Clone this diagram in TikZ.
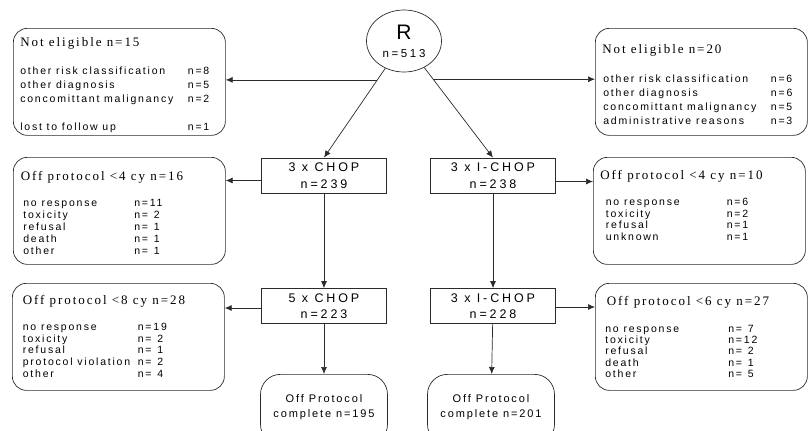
\documentclass[tikz,border=0pt]{standalone}
\usepackage{fontspec}
\setmainfont{Liberation Serif}
\setsansfont{Liberation Sans}
\newfontfamily\titlefont[LetterSpace=15]{Liberation Serif}
\newfontfamily\rowfont[LetterSpace=17]{Liberation Sans}
\newfontfamily\armfont[LetterSpace=23]{Liberation Sans}
\usetikzlibrary{arrows.meta,positioning,shapes.geometric,calc}
\definecolor{ln}{HTML}{2B2B2B}

% rows of the side boxes
\newcommand{\rrow}[2]{\makebox[189pt][l]{#1\hfill#2}}
\newcommand{\lrow}[3]{\makebox[#1][l]{#2}#3}
% title baseline, title-to-row gap, row skip, title indent, row indent, title, rows
\newcommand{\sidetext}[7]{%
  \begin{minipage}[t][107pt][t]{198pt}
    {\titlefont\fontsize{13}{15}\selectfont\leftskip=#4\rule{0pt}{#1}#6\par}
    \vspace{\dimexpr#2-#3\relax}
    {\rowfont\fontsize{10.5}{#3}\selectfont\leftskip=#5 #7\par}
  \end{minipage}}

\tikzset{
  sidebox/.style={
    rectangle, rounded corners=14pt, draw=ln, line width=0.7pt,
    inner sep=0pt, minimum width=212pt, minimum height=107pt,
    anchor=north west
  },
  armbox/.style={
    rectangle, draw=ln, line width=0.7pt,
    minimum width=125pt, minimum height=35pt, inner sep=0pt,
    align=center, font=\armfont\fontsize{12.5}{16.5}\selectfont
  },
  endbox/.style={
    rectangle, rounded corners=20pt, draw=ln, line width=0.7pt,
    minimum width=127pt, inner sep=0pt, anchor=north,
    font=\rowfont\fontsize{11}{15}\selectfont
  },
  flow/.style={
    -{Latex[length=7pt,width=6pt]}, line width=0.7pt, draw=ln
  },
}

\begin{document}
\begin{tikzpicture}[x=1pt, y=-1pt]
  \clip (0,0) rectangle (809,431);

  % Randomisation
  \node[ellipse, draw=ln, line width=0.7pt, minimum width=75pt,
    minimum height=62pt, inner sep=0pt, align=center,
    font=\armfont\fontsize{11.5}{18}\selectfont] (rand) at (404,41)
    {{\fontsize{21}{18}\selectfont R}\\n=513};

  % Not eligible
  \node[sidebox] (exL) at (13,28) {\sidetext{18pt}{28pt}{14pt}{0pt}{0pt}{Not eligible n=15}{%
    \rrow{other risk classification}{n=8}\\
    \rrow{other diagnosis}{n=5}\\
    \rrow{concomittant malignancy}{n=2}\\[14pt]
    \rrow{lost to follow up}{n=1}}};
  \node[sidebox] (exR) at (595,28) {\sidetext{25pt}{29pt}{14pt}{0pt}{1pt}{Not eligible n=20}{%
    \rrow{other risk classification}{n=6}\\
    \rrow{other diagnosis}{n=6}\\
    \rrow{concomittant malignancy}{n=5}\\
    \rrow{administrative reasons}{n=3}}};

  % First cycles
  \node[armbox] (a1) at (324,175.5) {3 x CHOP\\n=239};
  \node[armbox] (b1) at (493,175.5) {3 x I-CHOP\\n=238};
  \node[sidebox] (offA1) at (13,157) {\sidetext{23pt}{26pt}{12pt}{0.5pt}{3pt}{Off protocol <4 cy n=16}{%
    \lrow{111pt}{no response}{n=11}\\
    \lrow{111pt}{toxicity}{n=\phantom{1}2}\\
    \lrow{111pt}{refusal}{n=\phantom{1}1}\\
    \lrow{111pt}{death}{n=\phantom{1}1}\\
    \lrow{111pt}{other}{n=\phantom{1}1}}};
  \node[sidebox] (offB1) at (593,157) {\sidetext{22pt}{26.5pt}{11.5pt}{0pt}{5.5pt}{Off protocol <4 cy n=10}{%
    \lrow{121pt}{no response}{n=6}\\
    \lrow{121pt}{toxicity}{n=2}\\
    \lrow{121pt}{refusal}{n=1}\\
    \lrow{121pt}{unknown}{n=1}}};

  % Later cycles
  \node[armbox] (a2) at (324,306) {5 x CHOP\\n=223};
  \node[armbox] (b2) at (493,306) {3 x I-CHOP\\n=228};
  \node[sidebox] (offA2) at (12,283) {\sidetext{21pt}{26pt}{11.7pt}{3.5pt}{3.5pt}{Off protocol <8 cy n=28}{%
    \lrow{115pt}{no response}{n=19}\\
    \lrow{115pt}{toxicity}{n=\phantom{1}2}\\
    \lrow{115pt}{refusal}{n=\phantom{1}1}\\
    \lrow{115pt}{protocol violation}{n=\phantom{1}2}\\
    \lrow{115pt}{other}{n=\phantom{1}4}}};
  \node[sidebox] (offB2) at (595,283) {\sidetext{22pt}{27pt}{11.3pt}{4.5pt}{3pt}{Off protocol <6 cy n=27}{%
    \lrow{123pt}{no response}{n=\phantom{1}7}\\
    \lrow{123pt}{toxicity}{n=12}\\
    \lrow{123pt}{refusal}{n=\phantom{1}2}\\
    \lrow{123pt}{death}{n=\phantom{1}1}\\
    \lrow{123pt}{other}{n=\phantom{1}5}}};

  % Completed
  \node[endbox] (a3) at (324,374) {\begin{minipage}[t][70pt][t]{126pt}\centering
    \rule{0pt}{28pt}Off Protocol\\complete n=195\end{minipage}};
  \node[endbox] (b3) at (491,374) {\begin{minipage}[t][70pt][t]{126pt}\centering
    \rule{0pt}{28pt}Off Protocol\\complete n=201\end{minipage}};

  % Connectors
  \draw[flow] (rand) -- coordinate[pos=0.13] (sL) (a1.north);
  \draw[flow] (rand) -- coordinate[pos=0.13] (sR) (b1.north);
  \draw[flow] (sL) -- (sL -| exL.east);
  \draw[flow] (sR) -- (sR -| exR.west);

  \coordinate (pA1) at ([yshift=-5pt]a1.west);
  \coordinate (pB1) at ([yshift=-6pt]b1.east);
  \coordinate (pA2) at ([yshift=-2pt]a2.west);
  \coordinate (pB2) at ([yshift=-1pt]b2.east);
  \draw[flow] (pA1) -- (pA1 -| offA1.east);
  \draw[flow] (pB1) -- (pB1 -| offB1.west);
  \draw[flow] (pA2) -- (pA2 -| offA2.east);
  \draw[flow] (pB2) -- (pB2 -| offB2.west);

  \draw[flow] (a1) -- (a2);
  \draw[flow] (b1) -- (b2);
  \draw[flow] (a2) -- (a3);
  \draw[flow] (b2) -- (b3);
\end{tikzpicture}
\end{document}
